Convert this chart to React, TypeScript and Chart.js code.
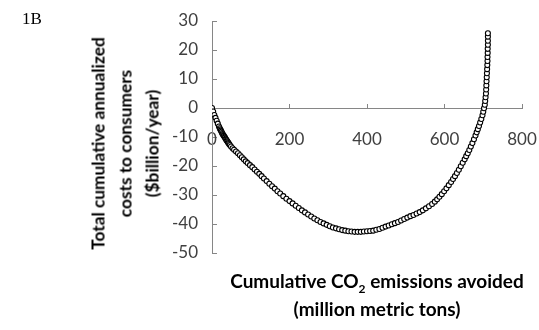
import React, { useEffect, useRef } from "react";
import { Chart, registerables } from "chart.js";

Chart.register(...registerables);

// Cumulative CO2 emissions avoided (million metric tons)
const emissionsAvoided: number[] = [
  0, 3, 6, 9, 12, 15, 18, 20, 21.5, 23, 24.5, 26, 27.5, 29, 30.5, 32, 33.5, 35, 36.5, 38, 39.5, 41, 42.5, 44, 46,
  49, 53, 57, 62, 67, 72, 77, 82, 87, 92, 98, 104, 110, 116, 122, 128, 134, 141, 148, 155, 162, 169, 176, 184,
  192, 200, 208, 216, 224, 232, 240, 248, 256, 264, 272, 280, 288, 296, 304, 312, 320, 328, 336, 344, 352, 360,
  368, 376, 384, 392, 400, 408, 416, 424, 432, 440, 448, 456, 464, 472, 480, 488, 496, 504, 512, 520, 528, 536,
  544, 552, 560, 568, 575, 581, 587, 593, 599, 605, 611, 617, 622, 627, 632, 637, 642, 647, 652, 656, 660, 664,
  668, 672, 676, 680, 683, 686, 689, 692, 695, 698, 700, 702, 704, 705, 706, 707, 707.5, 708, 708.5, 709, 709.5,
  710, 710.5, 711, 711, 711.5, 711.5, 712, 712, 712, 712,
];

// Total cumulative annualized costs to consumers ($billion/year)
const annualizedCosts: number[] = [
  0, -1.2, -2.4, -3.4, -4.4, -5.4, -6.4, -7.0, -7.4, -7.8, -8.2, -8.6, -9.0, -9.3, -9.6, -9.9, -10.2, -10.6,
  -10.9, -11.2, -11.5, -11.8, -12.1, -12.4, -12.8, -13.3, -13.9, -14.4, -15.0, -15.6, -16.3, -17.0, -17.7, -18.4,
  -19.0, -19.7, -20.4, -21.2, -22.0, -22.7, -23.5, -24.3, -25.2, -26.1, -27.0, -27.8, -28.7, -29.5, -30.4, -31.3,
  -32.1, -32.9, -33.7, -34.5, -35.3, -36.0, -36.7, -37.4, -38.1, -38.7, -39.3, -39.8, -40.3, -40.8, -41.2, -41.5,
  -41.8, -42.1, -42.3, -42.5, -42.6, -42.7, -42.7, -42.7, -42.6, -42.5, -42.4, -42.3, -42.0, -41.7, -41.3, -40.9,
  -40.5, -40.1, -39.7, -39.3, -38.8, -38.3, -37.8, -37.3, -36.9, -36.4, -35.9, -35.3, -34.6, -33.9, -33.1, -32.3,
  -31.5, -30.6, -29.7, -28.7, -27.7, -26.6, -25.5, -24.5, -23.5, -22.4, -21.3, -20.1, -18.9, -17.7, -16.6, -15.6,
  -14.5, -13.3, -12.1, -10.8, -9.5, -8.4, -7.3, -6.2, -5.0, -3.8, -2.5, -1.3, -0.1, 1.1, 2.4, 3.7, 5.0, 6.4, 7.8,
  9.2, 10.6, 12.0, 13.4, 14.8, 16.2, 17.6, 19.0, 20.4, 21.8, 23.2, 24.6, 25.8,
];

const xTicks: number[] = [0, 200, 400, 600, 800];
const yTicks: number[] = [30, 20, 10, 0, -10, -20, -30, -40, -50];

const AXIS_COLOR = "#868686";
const TICK_COLOR = "#404040";

const zeroPadding = (scale: any) => {
  scale.paddingLeft = 0;
  scale.paddingRight = 0;
  scale.paddingTop = 0;
  scale.paddingBottom = 0;
};

export default function App() {
  const canvasRef = useRef<HTMLCanvasElement | null>(null);

  useEffect(() => {
    const canvas = canvasRef.current;
    if (!canvas) return;
    const points = emissionsAvoided.map((x, i) => ({ x, y: annualizedCosts[i] }));
    const chart = new Chart(canvas, {
      type: "scatter",
      data: {
        datasets: [
          {
            data: points,
            pointStyle: "circle",
            pointRadius: 2.5,
            pointBorderWidth: 1.1,
            pointBorderColor: "#000000",
            pointBackgroundColor: "#ffffff",
            showLine: false,
          },
        ],
      },
      options: {
        responsive: false,
        animation: false,
        devicePixelRatio: 1,
        layout: { padding: { left: 0, right: 17, top: 21, bottom: 77 } },
        plugins: { legend: { display: false }, tooltip: { enabled: false } },
        scales: {
          x: {
            type: "linear",
            position: { y: 0 },
            min: xTicks[0],
            max: xTicks[xTicks.length - 1],
            afterBuildTicks: (scale: any) => {
              scale.ticks = xTicks.map((v) => ({ value: v }));
            },
            afterFit: (scale: any) => {
              zeroPadding(scale);
            },
            ticks: {
              color: TICK_COLOR,
              font: { family: "Lato", size: 17 },
              padding: 26,
              maxRotation: 0,
              autoSkip: false,
            },
            grid: {
              display: true,
              drawOnChartArea: false,
              drawTicks: true,
              tickLength: -5,
              color: AXIS_COLOR,
              tickColor: AXIS_COLOR,
            },
            border: { display: true, color: AXIS_COLOR, width: 1 },
          },
          y: {
            type: "linear",
            position: "left",
            min: yTicks[yTicks.length - 1],
            max: yTicks[0],
            afterBuildTicks: (scale: any) => {
              scale.ticks = [...yTicks].reverse().map((v) => ({ value: v }));
            },
            afterFit: (scale: any) => {
              scale.width = 212;
              zeroPadding(scale);
            },
            ticks: {
              color: TICK_COLOR,
              font: { family: "Lato", size: 17 },
              padding: 19,
              autoSkip: false,
            },
            grid: {
              display: true,
              drawOnChartArea: false,
              drawTicks: true,
              tickLength: -5,
              color: AXIS_COLOR,
              tickColor: AXIS_COLOR,
            },
            border: { display: true, color: AXIS_COLOR, width: 1 },
          },
        },
      },
    } as any);
    return () => chart.destroy();
  }, []);

  return (
    <div
      style={{
        position: "absolute",
        left: 0,
        top: 0,
        width: 539,
        height: 330,
        background: "#ffffff",
        overflow: "hidden",
      }}
    >
      <canvas ref={canvasRef} width={539} height={330} style={{ display: "block", width: 539, height: 330 }} />
      <div
        style={{
          position: "absolute",
          left: 22,
          top: 10,
          fontFamily: "'Liberation Serif', 'Times New Roman', serif",
          fontSize: 17,
          lineHeight: "17px",
          color: "#000",
        }}
      >
        1B
      </div>
      <div
        style={{
          position: "absolute",
          left: -24.6,
          top: 102.5,
          width: 300,
          height: 81,
          transform: "rotate(-90deg)",
          transformOrigin: "50% 50%",
          textAlign: "center",
          fontFamily: "Lato, sans-serif",
          fontWeight: 700,
          fontSize: 17.3,
          lineHeight: "27px",
          color: "#000",
          whiteSpace: "nowrap",
        }}
      >
        <div>Total cumulative annualized</div>
        <div>costs to consumers</div>
        <div>($billion/year)</div>
      </div>
      <div
        style={{
          position: "absolute",
          left: 177,
          top: 268,
          width: 400,
          textAlign: "center",
          fontFamily: "Lato, sans-serif",
          fontWeight: 700,
          fontSize: 19,
          lineHeight: "25px",
          color: "#000",
          whiteSpace: "nowrap",
        }}
      >
        <div>
          Cumulative CO
          <span style={{ fontSize: 12, position: "relative", top: 5 }}>2</span> emissions avoided
        </div>
        <div>(million metric tons)</div>
      </div>
    </div>
  );
}
